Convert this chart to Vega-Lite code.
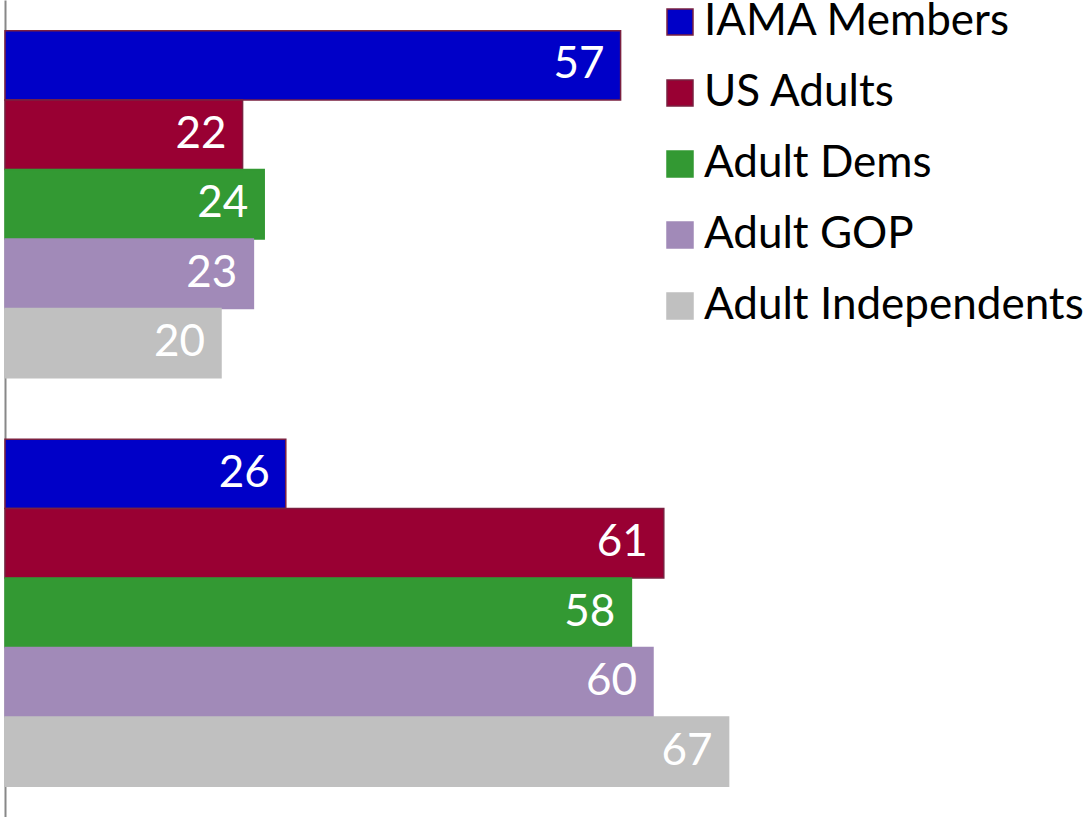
{
  "$schema": "https://vega.github.io/schema/vega-lite/v6.json",
  "width": 1080,
  "height": 817,
  "autosize": {"type": "none"},
  "padding": {"left": 5, "top": 0, "right": 0, "bottom": 0},
  "background": "white",
  "config": {
    "view": {"stroke": null},
    "font": "Lato"
  },
  "data": {
    "values": [
      {"group": "A", "series": "IAMA Members", "value": 57},
      {"group": "A", "series": "US Adults", "value": 22},
      {"group": "A", "series": "Adult Dems", "value": 24},
      {"group": "A", "series": "Adult GOP", "value": 23},
      {"group": "A", "series": "Adult Independents", "value": 20},
      {"group": "B", "series": "IAMA Members", "value": 26},
      {"group": "B", "series": "US Adults", "value": 61},
      {"group": "B", "series": "Adult Dems", "value": 58},
      {"group": "B", "series": "Adult GOP", "value": 60},
      {"group": "B", "series": "Adult Independents", "value": 67}
    ]
  },
  "encoding": {
    "y": {
      "field": "group",
      "type": "nominal",
      "scale": {"paddingInner": 0.15, "paddingOuter": 0.075},
      "axis": {"title": null, "labels": false, "ticks": false, "domainColor": "#888888", "domainWidth": 2}
    },
    "yOffset": {
      "field": "series",
      "type": "nominal",
      "sort": ["IAMA Members", "US Adults", "Adult Dems", "Adult GOP", "Adult Independents"],
      "scale": {"paddingInner": 0, "paddingOuter": 0}
    },
    "x": {
      "field": "value",
      "type": "quantitative",
      "scale": {"domain": [0, 100], "nice": false},
      "axis": null
    }
  },
  "layer": [
    {
      "mark": {"type": "bar", "strokeWidth": 1.5},
      "encoding": {
        "color": {
          "field": "series",
          "type": "nominal",
          "scale": {
            "domain": ["IAMA Members", "US Adults", "Adult Dems", "Adult GOP", "Adult Independents"],
            "range": ["#0000C8", "#990033", "#339933", "#A18AB8", "#C0C0C0"]
          },
          "legend": {
            "title": null, "orient": "none", "legendX": 653, "legendY": 0,
            "padding": 0, "symbolType": "square", "symbolSize": 676, "symbolStrokeWidth": 1.5,
            "labelFontSize": 44, "labelFont": "Lato", "labelColor": "#000000", "labelOffset": 2,
            "rowPadding": 27, "labelLimit": 500
          }
        },
        "stroke": {
          "field": "series",
          "type": "nominal",
          "scale": {
            "domain": ["IAMA Members", "US Adults", "Adult Dems", "Adult GOP", "Adult Independents"],
            "range": ["#7a2040", "#7a2040", "#339933", "#A18AB8", "#C0C0C0"]
          },
          "legend": {
            "title": null, "orient": "none", "legendX": 653, "legendY": 0,
            "padding": 0, "symbolType": "square", "symbolSize": 676, "symbolStrokeWidth": 1.5,
            "labelFontSize": 44, "labelFont": "Lato", "labelColor": "#000000", "labelOffset": 2,
            "rowPadding": 27, "labelLimit": 500
          }
        }
      }
    },
    {
      "mark": {"type": "text", "align": "right", "baseline": "middle", "dx": -16, "fontSize": 44, "font": "Lato", "color": "white"},
      "encoding": {
        "text": {"field": "value", "type": "quantitative"}
      }
    }
  ]
}
